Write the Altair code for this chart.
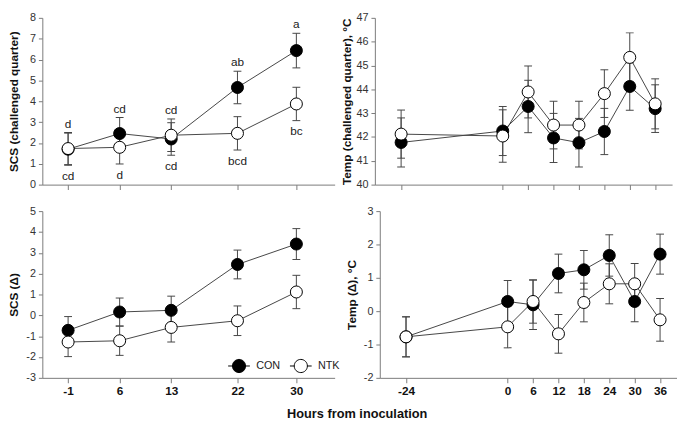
import altair as alt
import pandas as pd

# ---------------- data ----------------
groups = ["CON", "NTK"]
scs_hours = [-1, 6, 13, 22, 30]
temp_hours = [-24, 0, 6, 12, 18, 24, 30, 36]

scs_ch_con = [1.70, 2.45, 2.19, 4.66, 6.43]
scs_ch_con_se = [0.77, 0.77, 0.78, 0.78, 0.83]
scs_ch_ntk = [1.73, 1.79, 2.37, 2.46, 3.87]
scs_ch_ntk_se = [0.77, 0.80, 0.78, 0.80, 0.80]
letters_top = ["d", "cd", "cd", "ab", "a"]
letters_bottom = ["cd", "d", "cd", "bcd", "bc"]

temp_ch_con = [41.77, 42.25, 43.28, 41.96, 41.76, 42.23, 44.12, 43.19]
temp_ch_con_se = [1.03, 1.03, 1.10, 1.03, 1.02, 0.97, 1.00, 1.00]
temp_ch_ntk = [42.12, 42.04, 43.89, 42.50, 42.50, 43.82, 45.34, 43.39]
temp_ch_ntk_se = [1.01, 1.10, 1.09, 1.00, 1.00, 1.00, 1.03, 1.05]

scs_d_con = [-0.72, 0.16, 0.24, 2.44, 3.42]
scs_d_con_se = [0.66, 0.67, 0.68, 0.69, 0.74]
scs_d_ntk = [-1.28, -1.22, -0.58, -0.26, 1.12]
scs_d_ntk_se = [0.70, 0.70, 0.70, 0.71, 0.80]

temp_d_con = [-0.77, 0.29, 0.19, 1.13, 1.24, 1.67, 0.29, 1.71]
temp_d_con_se = [0.60, 0.63, 0.74, 0.58, 0.58, 0.62, 0.61, 0.60]
temp_d_ntk = [-0.77, -0.47, 0.29, -0.68, 0.26, 0.82, 0.82, -0.26]
temp_d_ntk_se = [0.60, 0.63, 0.65, 0.58, 0.58, 0.60, 0.61, 0.64]

# ---------------- style ----------------
FONT = "Liberation Sans"
AX = "#7a7a7a"
LC = "#444444"
WL, WR = 298, 303
H = 170
LEGEND_SYMBOL = "M-1.65,0H-1M1,0H1.65M-1,0A1,1,0,1,1,1,0A1,1,0,1,1,-1,0Z"
MINUS_FIX = "replace(datum.label, '\u2212', '-')"


def frame(hours, con, con_se, ntk, ntk_se):
    rows = []
    for order, (g, vals, ses) in enumerate(((groups[0], con, con_se), (groups[1], ntk, ntk_se))):
        for hr, v, s in zip(hours, vals, ses):
            rows.append({"hour": hr, "group": g, "mean": v, "lo": v - s, "hi": v + s, "ord": order})
    return pd.DataFrame(rows)


def panel(df, xdomain, xticks, ydomain, yticks, ytitle, w, show_labels, legend=None, letters=None):
    xs = alt.Scale(domain=xdomain, nice=False, zero=False)
    ys = alt.Scale(domain=ydomain, nice=False, zero=False)
    xaxis = alt.Axis(values=xticks, labels=show_labels, title=None, grid=False, tickSize=5,
                     labelFontWeight="bold", labelFontSize=12, labelPadding=3, labelColor="#111",
                     domainColor=AX, tickColor=AX, labelFlush=False, labelExpr=MINUS_FIX)
    yaxis = alt.Axis(values=yticks, title=ytitle, grid=False, tickSize=4, labelPadding=3,
                     labelFontSize=11, labelColor="#333", domainColor=AX, tickColor=AX,
                     labelExpr=MINUS_FIX,
                     titleX=-29, titleY=H / 2, titleBaseline="middle", titleAlign="center",
                     titleFontWeight="bold", titleFontSize=12, titleColor="#111")

    def X():
        return alt.X("hour:Q", scale=xs, axis=xaxis)

    def Y(f):
        return alt.Y(f, scale=ys, axis=yaxis)

    base = alt.Chart(df)
    rules = base.mark_rule(color=LC, strokeWidth=1).encode(x=X(), y=Y("lo:Q"), y2="hi:Q")
    cap_lo = base.mark_tick(orient="horizontal", size=8, thickness=1, color=LC, opacity=1).encode(x=X(), y=Y("lo:Q"))
    cap_hi = base.mark_tick(orient="horizontal", size=8, thickness=1, color=LC, opacity=1).encode(x=X(), y=Y("hi:Q"))
    lines = base.mark_line(color=LC, strokeWidth=1).encode(x=X(), y=Y("mean:Q"), detail="group:N")
    pts = base.mark_circle(size=150, opacity=1, stroke="black", strokeWidth=1).encode(
        x=X(), y=Y("mean:Q"),
        fill=alt.Fill("group:N", scale=alt.Scale(domain=groups, range=["black", "white"]), legend=legend),
        order=alt.Order("ord:Q"),
    )
    layers = [rules, cap_lo, cap_hi, lines, pts]
    if letters is not None:
        top_txt, bot_txt = letters
        agg = df.groupby("hour").agg(top=("hi", "max"), bottom=("lo", "min")).reset_index()
        agg["t_top"] = agg["hour"].map(dict(zip(xticks, top_txt)))
        agg["t_bot"] = agg["hour"].map(dict(zip(xticks, bot_txt)))
        lb = alt.Chart(agg)
        layers.append(lb.mark_text(dy=-9, fontSize=12, font=FONT, color="#222").encode(
            x=X(), y=Y("top:Q"), text="t_top:N"))
        layers.append(lb.mark_text(dy=11, fontSize=12, font=FONT, color="#222").encode(
            x=X(), y=Y("bottom:Q"), text="t_bot:N"))
    return alt.layer(*layers).properties(width=w, height=H)


legend = alt.Legend(orient="none", legendX=193, legendY=H - 20, direction="horizontal", title=None,
                    symbolType=LEGEND_SYMBOL, symbolSize=180, symbolStrokeColor="black",
                    symbolStrokeWidth=1, labelFont=FONT, labelFontSize=11, labelColor="#222",
                    labelOffset=10, columnPadding=7, padding=0)

scs_dom = [-4.5, 35.2]
temp_dom = [-30.2, 40.0]

tl = panel(frame(scs_hours, scs_ch_con, scs_ch_con_se, scs_ch_ntk, scs_ch_ntk_se), scs_dom, scs_hours,
           [0, 8], list(range(0, 9)), "SCS (challenged quarter)", WL, False,
           letters=(letters_top, letters_bottom))
tr = panel(frame(temp_hours, temp_ch_con, temp_ch_con_se, temp_ch_ntk, temp_ch_ntk_se), temp_dom, temp_hours,
           [40, 47], list(range(40, 48)), "Temp (challenged quarter), °C", WR, False)
bl = panel(frame(scs_hours, scs_d_con, scs_d_con_se, scs_d_ntk, scs_d_ntk_se), scs_dom, scs_hours,
           [-3, 5], list(range(-3, 6)), "SCS (Δ)", WL, True, legend=legend)
br = panel(frame(temp_hours, temp_d_con, temp_d_con_se, temp_d_ntk, temp_d_ntk_se), temp_dom, temp_hours,
           [-2, 3], list(range(-2, 4)), "Temp (Δ), °C", WR, True)

row1 = alt.hconcat(tl, tr, spacing=6).resolve_scale(fill="independent")
row2 = alt.hconcat(bl, br, spacing=6).resolve_scale(fill="independent")

chart = alt.vconcat(row1, row2, spacing=15).resolve_scale(fill="independent").properties(
    padding={"left": 0, "top": 0, "right": 0, "bottom": 0},
    title=alt.TitleParams("Hours from inoculation", orient="bottom", anchor="middle", fontSize=13,
                          fontWeight="bold", font=FONT, offset=12, dx=15, color="#111"),
).configure(font=FONT).configure_view(stroke=None).configure_axis(labelFont=FONT, titleFont=FONT)

chart.save("out.html", embed_options={"renderer": "svg", "actions": False})
